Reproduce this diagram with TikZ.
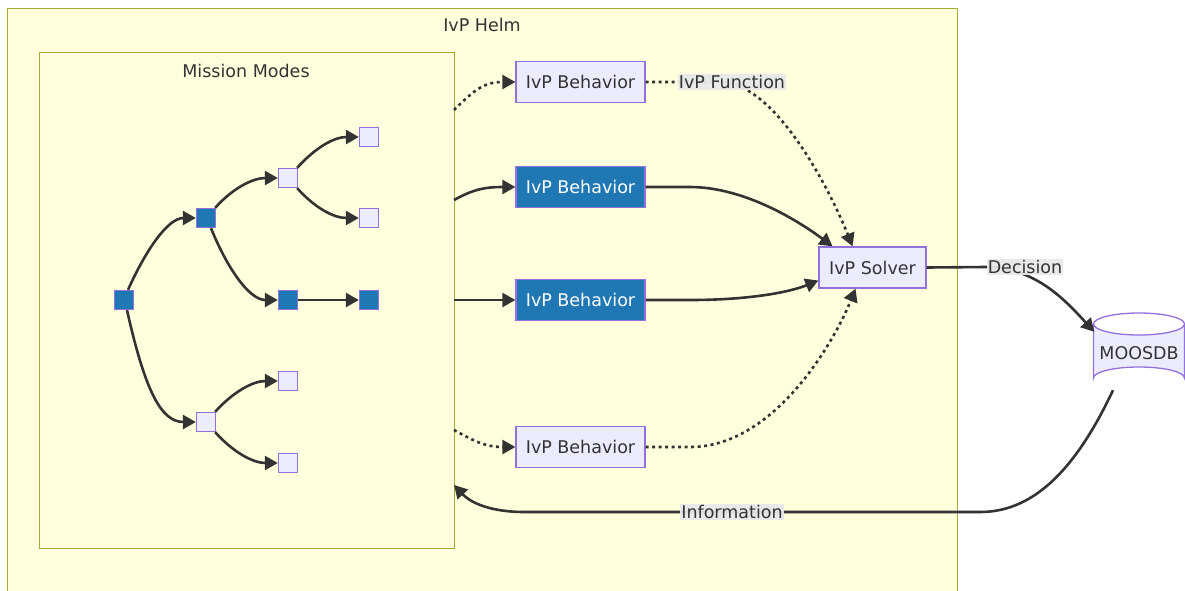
\documentclass[tikz,border=0pt]{standalone}
\usepackage{fontspec}
\setmainfont{DejaVu Sans}
\usetikzlibrary{arrows.meta,calc}
\definecolor{helmfill}{HTML}{FFFFDE}
\definecolor{helmline}{HTML}{AAAA33}
\definecolor{nodefill}{HTML}{ECECFF}
\definecolor{nodeline}{HTML}{9370DB}
\definecolor{activefill}{HTML}{1F77B4}
\definecolor{edgecol}{HTML}{333333}
\definecolor{lblbg}{HTML}{E8E8E8}
\tikzset{
  txt/.style={text=edgecol,font=\fontsize{17.5}{20}\selectfont},
  sq/.style={draw=nodeline,fill=nodefill,line width=1.3pt,minimum size=19pt,inner sep=0pt},
  sqa/.style={sq,fill=activefill},
  beh/.style={draw=nodeline,fill=nodefill,line width=1.3pt,minimum width=129pt,minimum height=41pt,txt},
  beha/.style={beh,fill=activefill,text=white},
  lbl/.style={fill=lblbg,fill opacity=0.95,text opacity=1,inner sep=1pt,txt},
  edge/.style={draw=edgecol,line width=2.6pt,-{Triangle[length=13pt,width=14pt]}},
  dedge/.style={edge,dash pattern=on 3pt off 3.5pt},
}
\begin{document}
\begin{tikzpicture}[x=1pt,y=-1pt]
\useasboundingbox (0,0) rectangle (1185,590);
% helm container
\node[draw=helmline,fill=helmfill,line width=1.3pt,minimum width=950pt,minimum height=600pt,anchor=north west,inner sep=0pt] (helm) at (7,8) {};
\node[txt] (helmt) at (482,25) {IvP Helm};
% mission modes
\node[draw=helmline,fill=helmfill,line width=1.3pt,minimum width=415pt,minimum height=496pt,anchor=north west,inner sep=0pt] (mm) at (39,52) {};
\node[txt] (mmt) at (246,71) {Mission Modes};
% tree nodes
\node[sqa] (r) at (124,300) {};
\node[sqa] (a) at (206,218) {};
\node[sq] (a1) at (288,178) {};
\node[sq] (a11) at (369,137) {};
\node[sq] (a12) at (369,218) {};
\node[sqa] (a2) at (288,300) {};
\node[sqa] (a21) at (369,300) {};
\node[sq] (c) at (206,422) {};
\node[sq] (c1) at (288,381) {};
\node[sq] (c2) at (288,463) {};
% tree edges
\draw[edge] ([xshift=4pt]r.north) .. controls +(18,-40) and +(-28,0) .. (a.west);
\draw[edge] ([xshift=3pt]r.south) .. controls +(18,80) and +(-35,0) .. (c.west);
\draw[edge] ([xshift=-1pt]a.north east) .. controls +(18,-20) and +(-25,0) .. (a1.west);
\draw[edge] ([xshift=5pt]a.south) .. controls +(14,35) and +(-30,0) .. (a2.west);
\draw[edge] ([xshift=-1pt]a1.north east) .. controls +(18,-20) and +(-25,0) .. (a11.west);
\draw[edge] ([xshift=-1pt]a1.south east) .. controls +(18,20) and +(-25,0) .. (a12.west);
\draw[edge] (a2.east) -- (a21.west);
\draw[edge] ([xshift=-1pt]c.north east) .. controls +(18,-20) and +(-25,0) .. (c1.west);
\draw[edge] ([xshift=-1pt]c.south east) .. controls +(18,20) and +(-25,0) .. (c2.west);
% behaviors and solver
\node[beh] (b1) at (580.5,82) {IvP Behavior};
\node[beha] (b2) at (580.5,187) {IvP Behavior};
\node[beha] (b3) at (580.5,300) {IvP Behavior};
\node[beh] (b4) at (580.5,447) {IvP Behavior};
\node[beh,minimum width=107pt] (s) at (872.5,267.5) {IvP Solver};
% database cylinder
\node[minimum width=91pt,minimum height=77pt,inner sep=0pt] (db) at (1139,351.5) {};
\fill[nodefill] (1093.5,324) -- (1093.5,378) arc[start angle=180,end angle=360,x radius=45.5,y radius=11] -- (1184.5,324) arc[start angle=0,end angle=180,x radius=45.5,y radius=11] -- cycle;
\draw[nodeline,line width=1.3pt] (1093.5,324) -- (1093.5,378) arc[start angle=180,end angle=360,x radius=45.5,y radius=11] -- (1184.5,324);
\draw[nodeline,line width=1.3pt] (1139,324) ellipse[x radius=45.5,y radius=11];
\node[txt] (dbt) at (1139,353) {MOOSDB};
% free ends on mission modes box
\coordinate (m1) at (454,110);
\coordinate (m2) at (454,200);
\coordinate (m3) at (454,300);
\coordinate (m4) at (454,430);
\coordinate (m5) at (454,485);
% mission -> behaviors
\draw[dedge] (m1) .. controls +(22,-22) and +(-30,0) .. (b1.west);
\draw[edge] (m2) .. controls +(20,-11) and +(-30,0) .. (b2.west);
\draw[edge] (m3) -- (b3.west);
\draw[dedge] (m4) .. controls +(20,11) and +(-30,0) .. (b4.west);
% behaviors -> solver
\draw[dedge] (b1.east) -- (720,82) .. controls (775,82) and (830,190) .. ([xshift=-20pt]s.north);
\draw[edge] (b2.east) -- (690,187) .. controls (745,187) and (800,222) .. ([xshift=-40pt]s.north);
\draw[edge] (b3.east) -- (690,300) .. controls (750,300) and (790,292) .. ([yshift=-13pt]s.west);
\draw[dedge] (b4.east) -- (690,447) .. controls (775,447) and (835,340) .. ([xshift=-17pt]s.south);
\node[lbl] (lf) at (732,82) {IvP Function};
% solver -> db
\draw[edge] (s.east) -- (985,267) .. controls (1035,267) and (1065,300) .. ([xshift=1pt,yshift=-19pt]db.north west);
\node[lbl] (ld) at (1025,267) {Decision};
% db -> mission
\draw[edge] ([xshift=-26pt]db.south) .. controls +(-40,85) and +(50,0) .. (980,512) -- (525,512) .. controls (485,512) and (468,500) .. (m5);
\node[lbl] (li) at (732,512) {Information};
\end{tikzpicture}
\end{document}
